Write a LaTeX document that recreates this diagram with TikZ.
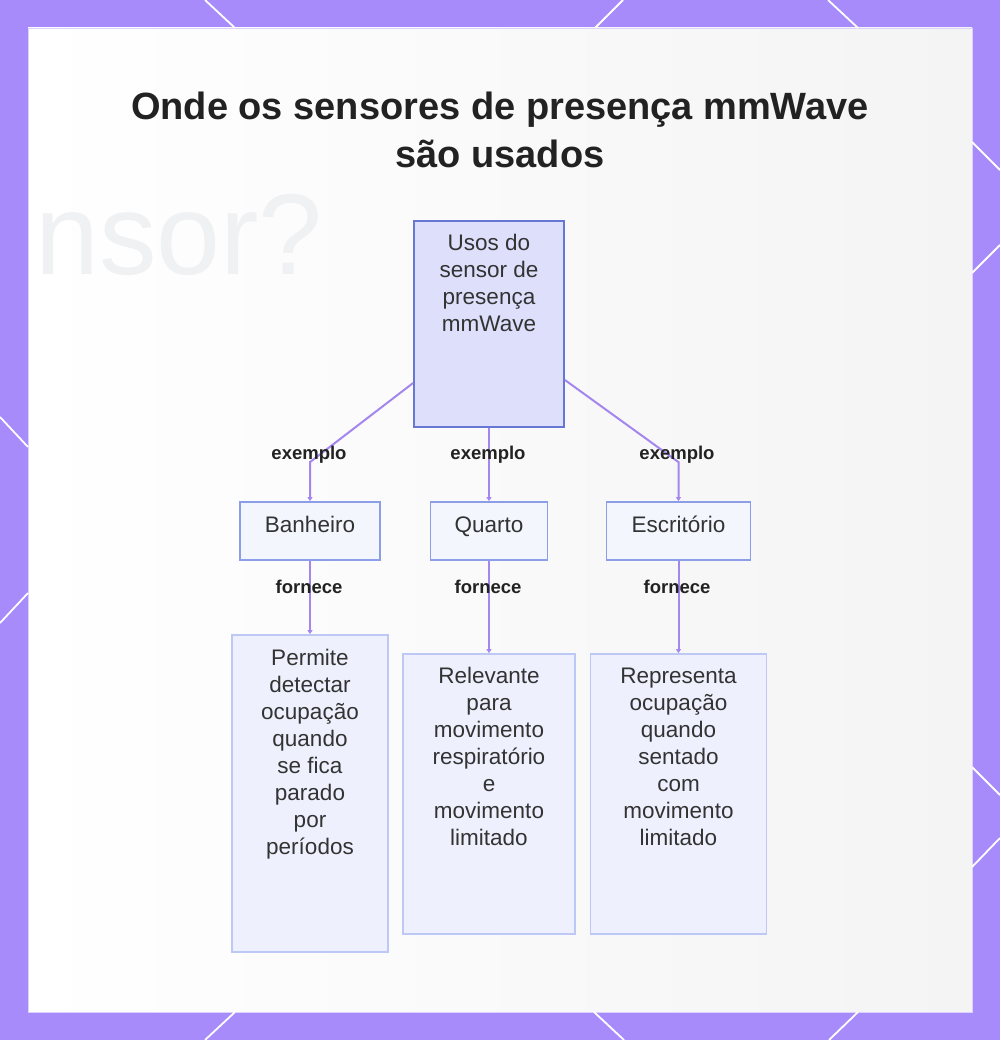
\documentclass[tikz,border=0pt]{standalone}
\usepackage{fontspec}
\setmainfont{Liberation Sans}
\usetikzlibrary{arrows.meta}
\definecolor{purp}{RGB}{167,139,250}
\definecolor{bgR}{RGB}{244,244,245}
\definecolor{lineC}{RGB}{164,134,238}
\definecolor{topFill}{RGB}{221,223,251}
\definecolor{topDraw}{RGB}{104,118,212}
\definecolor{midFill}{RGB}{244,246,254}
\definecolor{midDraw}{RGB}{140,158,232}
\definecolor{botFill}{RGB}{238,241,253}
\definecolor{botDraw}{RGB}{190,200,244}
\definecolor{txt}{RGB}{51,51,51}
\definecolor{dark}{RGB}{34,34,34}
\definecolor{ghost}{RGB}{240,241,243}
\newcommand{\bxt}[4]{\parbox[c][#2][t]{#1}{\fontsize{22.5pt}{27pt}\selectfont\centering\rule{0pt}{#3}#4}}
\begin{document}
\begin{tikzpicture}[x=1pt,y=-1pt,
  topbox/.style={draw=topDraw,fill=topFill,line width=1.8pt,inner sep=0pt,text=txt},
  midbox/.style={draw=midDraw,fill=midFill,line width=1.8pt,inner sep=0pt,text=txt},
  botbox/.style={draw=botDraw,fill=botFill,line width=1.8pt,inner sep=0pt,text=txt},
  conn/.style={draw=lineC,line width=2pt,-{Triangle[length=4pt,width=5pt]}},
  lab/.style={font=\bfseries\fontsize{18.5pt}{20pt}\selectfont,text=dark,inner sep=0pt},
  wline/.style={draw=white,line width=1.8pt}]
\useasboundingbox (0,0) rectangle (1000,1040);
\fill[purp] (0,0) rectangle (1000,1040);
\shade[left color=white,right color=bgR] (28,28) rectangle (972,1012);
\draw[draw=purp!40!white,line width=0.8pt] (28,28) rectangle (972,1012);
% border decorations
\draw[wline] (205,0) -- (235,28);
\draw[wline] (623,0) -- (595,28);
\draw[wline] (828,0) -- (858,28);
\draw[wline] (205,1040) -- (235,1012);
\draw[wline] (624,1040) -- (594,1012);
\draw[wline] (829,1040) -- (858,1012);
\draw[wline] (972,142) -- (1000,170);
\draw[wline] (1000,245) -- (972,273);
\draw[wline] (972,767) -- (1000,795);
\draw[wline] (1000,838) -- (972,867);
\draw[wline] (0,417) -- (28,447);
\draw[wline] (28,593) -- (0,623);
% faint background text
\node[anchor=base west,inner sep=0pt,text=ghost,font=\fontsize{115pt}{120pt}\selectfont] (ghost) at (35,275) {nsor?};
% title
\node[anchor=north,inner sep=0pt,align=center,text=dark,font=\bfseries\fontsize{38pt}{48pt}\selectfont] (title) at (500,92) {Onde os sensores de presença mmWave\\são usados};
% nodes
\node[topbox] (top) at (489,324) {\bxt{150pt}{206pt}{29pt}{Usos do\\sensor de\\presença\\mmWave}};
\node[midbox] (ban) at (310,531) {\bxt{140pt}{58pt}{30pt}{Banheiro}};
\node[midbox] (qua) at (489,531) {\bxt{117pt}{58pt}{30pt}{Quarto}};
\node[midbox] (esc) at (678.5,531) {\bxt{144pt}{58pt}{30pt}{Escritório}};
\node[botbox] (per) at (310,793.5) {\bxt{156pt}{317pt}{30pt}{Permite\\detectar\\ocupação\\quando\\se fica\\parado\\por\\períodos}};
\node[botbox] (rel) at (489,794) {\bxt{172pt}{280pt}{29pt}{Relevante\\para\\movimento\\respiratório\\e\\movimento\\limitado}};
\node[botbox] (rep) at (678.5,794) {\bxt{176pt}{280pt}{29pt}{Representa\\ocupação\\quando\\sentado\\com\\movimento\\limitado}};
% connectors
\draw[conn] ([yshift=-59pt]top.west) -- ([yshift=39pt]ban.north) -- (ban.north);
\draw[conn] (top.south) -- (qua.north);
\draw[conn] ([yshift=-56pt]top.east) -- ([yshift=39pt]esc.north) -- (esc.north);
\draw[conn] (ban.south) -- (per.north);
\draw[conn] (qua.south) -- (rel.north);
\draw[conn] (esc.south) -- (rep.north);
% labels
\node[lab] (e1) at (309,455) {exemplo};
\node[lab] (e2) at (488,455) {exemplo};
\node[lab] (e3) at (677,455) {exemplo};
\node[lab] (f1) at (309,587) {fornece};
\node[lab] (f2) at (488,587) {fornece};
\node[lab] (f3) at (677,587) {fornece};
\end{tikzpicture}
\end{document}
